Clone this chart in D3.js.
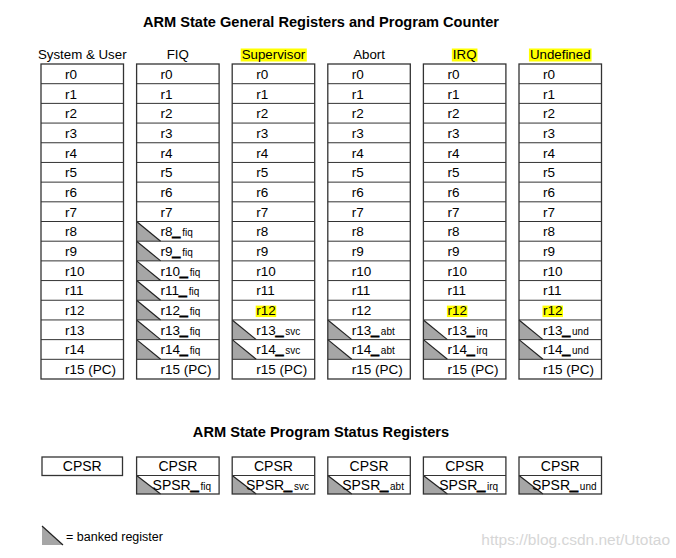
<!DOCTYPE html>
<html><head><meta charset="utf-8">
<script src="https://cdn.jsdelivr.net/npm/d3@7"></script>
<style>body{margin:0;background:#fff}svg{display:block}text{font-family:"Liberation Sans",Arial,sans-serif;fill:#000}</style>
</head><body>
<svg id="c" width="676" height="558"></svg>
<script>
const modes = ["System & User","FIQ","Supervisor","Abort","IRQ","Undefined"];
const modeHighlighted = [false,false,true,false,true,true];
const suffixes = ["","fiq","svc","abt","irq","und"];
const bankStart = [16,8,13,13,13,13]; // first banked register index per mode
const registers = ["r0","r1","r2","r3","r4","r5","r6","r7","r8","r9","r10","r11","r12","r13","r14","r15 (PC)"];
const r12Highlighted = [false,false,true,false,true,true];
const hasSPSR = [false,true,true,true,true,true];
const title1 = "ARM State General Registers and Program Counter";
const title2 = "ARM State Program Status Registers";
const legendText = "= banked register";
const watermark = "https://blog.csdn.net/Utotao";

const svg = d3.select("#c");
const colW = 82.5;
const x = d3.scaleLinear().domain([0, 1]).range([41, 41+95.6]);
const colX = i => x(i);
const y = d3.scaleBand().domain(d3.range(registers.length)).range([64, 379]);
const rh = y.bandwidth();
const stroke = "#333";
const gray = "#a6a6a6";
const fs = 13.5;

svg.append("text").attr("x",321).attr("y",27).attr("text-anchor","middle")
  .style("font-weight","bold").style("font-size","14.6px").text(title1);

function banked(g, x0, y0, h, w) {
  g.append("path").attr("d", `M${x0},${y0}L${x0},${y0+h}L${x0+w},${y0+h}Z`).attr("fill",gray).attr("stroke","none");
  g.append("line").attr("x1",x0).attr("y1",y0).attr("x2",x0+w).attr("y2",y0+h).attr("stroke","#222").attr("stroke-width",1.2);
}
function label(g, tx, ty, base, suf, anchor, bigFs) {
  const t = g.append("text").attr("x",tx).attr("y",ty).attr("text-anchor",anchor||"start").style("font-size",(bigFs||fs)+"px");
  t.append("tspan").text(base);
  if (suf) {
    t.append("tspan").text("_").style("font-weight","bold").style("stroke","#000").style("stroke-width","1.3px");
    t.append("tspan").text("\u2009"+suf).style("font-size","10px");
  }
  return t;
}

modes.forEach((m, i) => {
  const g = svg.append("g");
  const x0 = colX(i);
  const ht = g.append("text").attr("x", x0+colW/2).attr("y", 59).attr("text-anchor","middle").style("font-size","13.3px").text(m);
  if (modeHighlighted[i]) {
    const bb = ht.node().getBBox();
    g.insert("rect","text").attr("x",bb.x-1).attr("y",bb.y+1.5).attr("width",bb.width+2).attr("height",bb.height-2).attr("fill","#ffff00");
  }
  registers.forEach((r, j) => {
    const y0 = y(j);
    const isBanked = j >= bankStart[i] && j < 15;
    if (isBanked) banked(g, x0, y0, rh, 24);
    const tx = x0 + 24;
    const ty = y0 + rh/2 + 5;
    const t = label(g, tx, ty, r, isBanked ? suffixes[i] : "", "start");
    if (j === 12 && r12Highlighted[i]) {
      const bb = t.node().getBBox();
      g.insert("rect","text").attr("x",bb.x-0.5).attr("y",bb.y+2.5).attr("width",bb.width+1).attr("height",bb.height-3.5).attr("fill","#ffff00");
    }
    if (j > 0) g.append("line").attr("x1",x0).attr("x2",x0+colW).attr("y1",y0).attr("y2",y0).attr("stroke",stroke).attr("stroke-width",1);
  });
  g.append("rect").attr("x",x0).attr("y",64).attr("width",colW).attr("height",379-64).attr("fill","none").attr("stroke",stroke).attr("stroke-width",1.3);
});

svg.append("text").attr("x",321).attr("y",437).attr("text-anchor","middle")
  .style("font-weight","bold").style("font-size","14.6px").text(title2);

const psrTop = 457, psrH = 18.5;
modes.forEach((m, i) => {
  const g = svg.append("g");
  const x0 = colX(i) + (i===0 ? 1 : 0);
  const w = colW - (i===0 ? 2 : 0);
  const nrows = hasSPSR[i] ? 2 : 1;
  if (hasSPSR[i]) banked(g, x0, psrTop+psrH, psrH, 24);
  label(g, x0 + w/2, psrTop + psrH/2 + 5, "CPSR", "", "middle", 14);
  if (hasSPSR[i]) {
    label(g, x0 + w/2 + 4, psrTop + psrH*1.5 + 5, "SPSR", suffixes[i], "middle", 14);
    g.append("line").attr("x1",x0).attr("x2",x0+w).attr("y1",psrTop+psrH).attr("y2",psrTop+psrH).attr("stroke",stroke);
  }
  g.append("rect").attr("x",x0).attr("y",psrTop).attr("width",w).attr("height",psrH*nrows).attr("fill","none").attr("stroke",stroke).attr("stroke-width",1.3);
});

const lg = svg.append("g");
banked(lg, 42, 526, 19, 21);
lg.append("text").attr("x",66).attr("y",541).style("font-size","12.5px").text(legendText);

svg.append("text").attr("x",670).attr("y",545).attr("text-anchor","end").style("font-size","15.5px").style("fill","#d6d6d6").text(watermark);
</script>
</body></html>
